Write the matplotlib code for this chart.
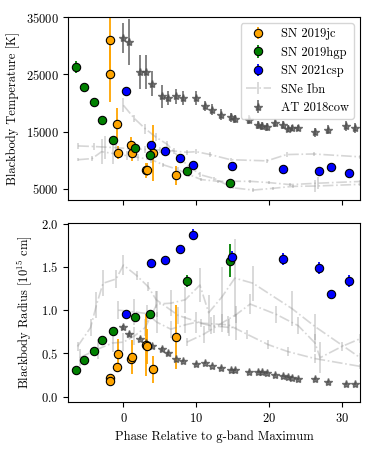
import matplotlib
matplotlib.use("Agg")
import matplotlib.pyplot as plt

plt.rcParams['font.family'] = 'serif'
plt.rcParams['font.serif'] = ['cmr10', 'DejaVu Serif']
plt.rcParams['mathtext.fontset'] = 'cm'
plt.rcParams['axes.formatter.use_mathtext'] = True
plt.rcParams['font.size'] = 9

# ---- SN 2019jc ----
jc_phase = [-1.9, -1.83, -0.9, -0.8, 1.05, 1.2, 3.07, 3.2, 4.1, 7.15]
jc_T = [25000, 31000, 16340, 11340, 12600, 11200, 8260, 8370, 11220, 7380]
jc_Terr = [4800, 6000, 2700, 1200, 1500, 1400, 1300, 1200, 4900, 1700]
jc_R = [0.22, 0.18, 0.34, 0.49, 0.43, 0.46, 0.60, 0.58, 0.315, 0.69]
jc_Rerr = [0.02, 0.02, 0.05, 0.18, 0.05, 0.2, 0.36, 0.2, 0.16, 0.37]

# ---- SN 2019hgp ----
hgp_phase = [-6.5, -5.4, -4.0, -3.0, -1.4, 1.6, 3.6, 8.7, 14.6]
hgp_T = [26280, 22730, 20230, 16980, 13600, 12150, 10930, 8200, 5990]
hgp_Terr = [1000, 400, 400, 400, 400, 400, 400, 300, 300]
hgp_R = [0.31, 0.42, 0.525, 0.65, 0.76, 0.915, 0.96, 1.34, 1.57]
hgp_Rerr = [0.01, 0.01, 0.01, 0.01, 0.01, 0.01, 0.02, 0.07, 0.19]

# ---- SN 2021csp ----
csp_phase = [0.41, 3.76, 5.73, 7.83, 9.57, 14.84, 21.85, 26.9, 28.5, 30.9]
csp_T = [22030, 12620, 11690, 10410, 9130, 9010, 8490, 8080, 8780, 7790]
csp_Terr = [300, 300, 300, 300, 300, 300, 300, 300, 300, 300]
csp_R = [0.954, 1.55, 1.577, 1.71, 1.873, 1.615, 1.59, 1.485, 1.19, 1.335]
csp_Rerr = [0.01, 0.01, 0.01, 0.02, 0.06, 0.07, 0.07, 0.07, 0.04, 0.07]

# ---- AT 2018cow ----
cow_phase = [0.0, 0.75, 2.24, 3.07, 3.9, 5.36, 6.15, 7.2, 8.22, 9.95, 11.2, 12.2,
             13.45, 14.73, 15.33, 17.25, 18.5, 19.0, 19.7, 20.8, 21.9, 22.6,
             23.2, 23.95, 26.3, 28.15, 30.52, 31.8]
cow_T = [31340, 30580, 25400, 25400, 23370, 21160, 20870, 21160, 20870, 20870,
         19420, 18840, 17970, 17500, 17270, 17090, 16220, 16050, 15870, 16510,
         16100, 15520, 15640, 15640, 14880, 15350, 15930, 15640]
cow_Terr = [2700, 4000, 3000, 3000, 2200, 2000, 1300, 1300, 1200, 1200, 900, 900,
            900, 800, 700, 800, 700, 700, 700, 700, 700, 600, 600, 600, 800,
            800, 900, 900]
cow_R = [0.80, 0.72, 0.67, 0.62, 0.585, 0.55, 0.50, 0.44, 0.415, 0.375, 0.385,
         0.36, 0.335, 0.308, 0.304, 0.285, 0.288, 0.28, 0.277, 0.25, 0.235,
         0.228, 0.22, 0.205, 0.20, 0.173, 0.148, 0.148]
cow_Rerr = [0.03, 0.02, 0.02, 0.02, 0.02, 0.02, 0.02, 0.01, 0.01, 0.01, 0.01,
            0.01, 0.01, 0.01, 0.01, 0.01, 0.01, 0.01, 0.01, 0.01, 0.01, 0.01,
            0.01, 0.01, 0.01, 0.01, 0.01, 0.01]

# ---- SNe Ibn (temperature) ----
ibnT1_phase = [-6.2, -4.0, -2.5, -1.0, 1.0, 3.0, 5.0, 7.0, 8.7, 10.0, 11.9, 14.7, 19.7, 22.4, 26.1, 32.5]
ibnT1 = [12500, 12400, 12300, 12200, 12000, 11900, 11800, 11600, 11400, 11500, 11000, 10100, 9900, 11000, 11100, 10600]
ibnT1_err = [500, 600, 2000, 1500, 700, 600, 500, 500, 400, 400, 400, 300, 300, 400, 400, 300]

ibnT2_phase = [-6.2, -4.3, -3.0, -1.5, 0.5, 2.0, 3.85, 5.5, 7.5, 9.0, 10.7, 13.0, 17.4, 20.0, 22.9, 26.7, 32.5]
ibnT2 = [10100, 10300, 11500, 11200, 10800, 10500, 10100, 9200, 8370, 7500, 6630, 6330, 6330, 6100, 5750, 6000, 6300]
ibnT2_err = [300, 400, 2200, 1800, 800, 600, 500, 400, 400, 400, 300, 300, 300, 300, 300, 1000, 300]

ibnT3_phase = [0.0, 1.5, 3.0, 4.5, 6.0, 8.0, 10.5, 12.5, 15.0, 17.8, 20.5, 23.3, 26.3, 32.5]
ibnT3 = [19600, 17300, 15500, 14000, 12800, 10000, 7500, 6800, 5200, 4800, 5100, 5450, 5500, 5800]
ibnT3_err = [1200, 600, 900, 700, 500, 500, 400, 300, 300, 300, 300, 300, 1000, 300]

# ---- SNe Ibn (radius) ----
ibnR1_phase = [-6.3, -4.5, -3.7, -2.8, -1.0, 0.0, 1.8, 3.4, 4.5, 7.5, 10.7, 12.5, 14.4, 17.0, 19.9, 22.6, 26.3, 32.5]
ibnR1 = [0.58, 0.80, 1.06, 1.31, 1.36, 1.52, 1.40, 1.27, 1.12, 0.94, 0.85, 0.84, 0.83, 0.72, 0.60, 0.52, 0.44, 0.35]
ibnR1_err = [0.05, 0.1, 0.15, 0.15, 0.1, 0.12, 0.05, 0.05, 0.1, 0.1, 0.05, 0.1, 0.1, 0.05, 0.05, 0.05, 0.05, 0.03]

ibnR2_phase = [-6.0, -3.5, -1.5, 0.0, 1.5, 3.0, 4.6, 6.5, 8.5, 10.5, 11.7, 13.5, 15.3, 17.8, 23.1, 26.3, 32.5]
ibnR2 = [0.45, 0.55, 0.62, 0.63, 0.70, 0.80, 1.07, 1.08, 1.12, 1.29, 0.97, 1.15, 1.37, 1.31, 1.02, 0.81, 0.45]
ibnR2_err = [0.1, 0.12, 0.1, 0.1, 0.1, 0.1, 0.15, 0.15, 0.15, 0.2, 0.2, 0.35, 0.45, 0.2, 0.2, 0.15, 0.05]

ibnR3_phase = [-0.7, 1.4, 3.2, 4.6, 6.5, 8.5, 10.0, 12.0, 14.5, 15.5]
ibnR3 = [1.0, 0.98, 0.96, 0.86, 0.78, 0.83, 0.86, 0.82, 0.80, 0.80]
ibnR3_err = [0.1, 0.15, 0.1, 0.12, 0.1, 0.1, 0.12, 0.1, 0.1, 0.15]

ibnR4_phase = [8.7, 11.0, 13.5, 15.5, 17.4, 21.0, 24.0, 26.3, 27.0, 30.0, 32.5]
ibnR4 = [0.63, 0.72, 0.85, 0.95, 1.07, 0.95, 0.82, 0.62, 0.45, 0.58, 0.67]
ibnR4_err = [0.05, 0.1, 0.1, 0.1, 0.12, 0.1, 0.1, 0.1, 0.18, 0.05, 0.05]

fig = plt.figure(figsize=(3.74, 4.49), dpi=100)
ax1 = fig.add_axes([0.182, 0.555, 0.781, 0.407])
ax2 = fig.add_axes([0.182, 0.105, 0.781, 0.399], sharex=ax1)

ibn_kw = dict(fmt='-.', color='0.55', alpha=0.35, lw=1.2, elinewidth=1.3, capsize=0)
pt_kw = dict(fmt='o', ms=6, mec='k', mew=0.8, elinewidth=1.3, capsize=0)
cow_kw = dict(fmt='*', color='0.3', alpha=0.75, ms=6, elinewidth=1.3, capsize=0)

# Top panel
for i, (ph, v, e) in enumerate([(ibnT1_phase, ibnT1, ibnT1_err),
                                (ibnT2_phase, ibnT2, ibnT2_err),
                                (ibnT3_phase, ibnT3, ibnT3_err)]):
    ax1.errorbar(ph, v, yerr=e, label='SNe Ibn' if i == 0 else None, **ibn_kw)
ax1.errorbar(cow_phase, cow_T, yerr=cow_Terr, label='AT 2018cow', **cow_kw)
ax1.errorbar(jc_phase, jc_T, yerr=jc_Terr, color='orange', label='SN 2019jc', **pt_kw)
ax1.errorbar(hgp_phase, hgp_T, yerr=hgp_Terr, color='green', label='SN 2019hgp', **pt_kw)
ax1.errorbar(csp_phase, csp_T, yerr=csp_Terr, color='blue', label='SN 2021csp', **pt_kw)

# Bottom panel
for ph, v, e in [(ibnR1_phase, ibnR1, ibnR1_err), (ibnR2_phase, ibnR2, ibnR2_err),
                 (ibnR3_phase, ibnR3, ibnR3_err), (ibnR4_phase, ibnR4, ibnR4_err)]:
    ax2.errorbar(ph, v, yerr=e, **ibn_kw)
ax2.errorbar(cow_phase, cow_R, yerr=cow_Rerr, **cow_kw)
ax2.errorbar(jc_phase, jc_R, yerr=jc_Rerr, color='orange', **pt_kw)
ax2.errorbar(hgp_phase, hgp_R, yerr=hgp_Rerr, color='green', **pt_kw)
ax2.errorbar(csp_phase, csp_R, yerr=csp_Rerr, color='blue', **pt_kw)

ax1.set_xlim(-7.6, 32.5)
ax1.set_ylim(3100, 35000)
ax1.set_yticks([5000, 15000, 25000, 35000])
ax1.set_xticks([0, 10, 20, 30])
ax1.tick_params(labelbottom=False)
ax1.set_ylabel('Blackbody Temperature [K]')

ax2.set_ylim(-0.06, 2.01)
ax2.set_yticks([0.0, 0.5, 1.0, 1.5, 2.0])
ax2.set_ylabel(r'Blackbody Radius [$10^{15}$ cm]')
ax2.set_xlabel('Phase Relative to g-band Maximum')

h, l = ax1.get_legend_handles_labels()
order = [l.index(n) for n in ['SN 2019jc', 'SN 2019hgp', 'SN 2021csp', 'SNe Ibn', 'AT 2018cow']]
ax1.legend([h[i] for i in order], [l[i] for i in order], loc='upper right', fontsize=9)

fig.savefig('out.png', dpi=100)
